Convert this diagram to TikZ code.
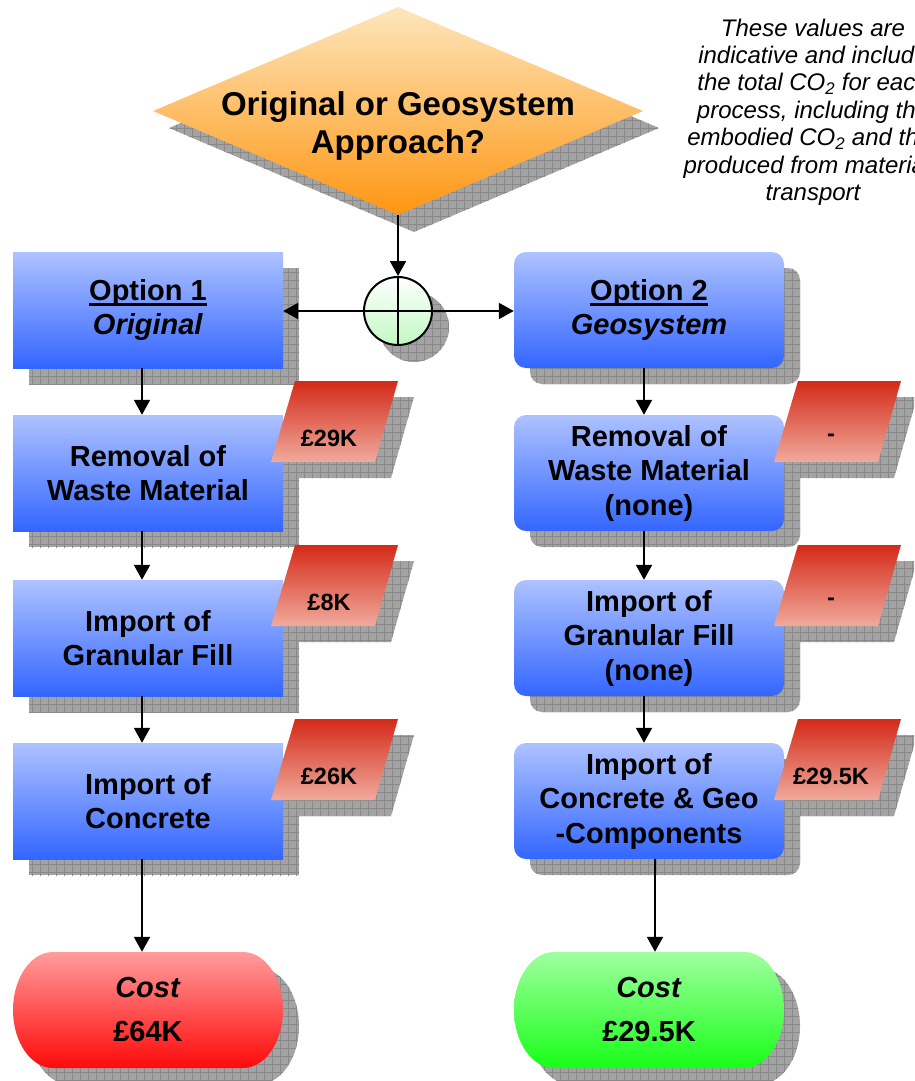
\documentclass[tikz,border=0pt]{standalone}
\usepackage{fontspec}
\setmainfont{Liberation Sans}
\usetikzlibrary{arrows.meta,shapes.geometric}

\definecolor{boxtop}{HTML}{AEC2FF}
\definecolor{boxbot}{HTML}{3366FF}
\definecolor{paratop}{HTML}{D42A18}
\definecolor{parabot}{HTML}{F0AA9C}
\definecolor{diatop}{HTML}{FDE6BC}
\definecolor{diabot}{HTML}{FF9612}
\definecolor{redtop}{HTML}{FF9C9C}
\definecolor{redbot}{HTML}{FF0A0A}
\definecolor{greentop}{HTML}{A0FFA0}
\definecolor{greenbot}{HTML}{18FF18}
\definecolor{jnbot}{HTML}{C2F8C2}
\definecolor{shadowgray}{HTML}{A3A3A3}
\definecolor{shadowline}{HTML}{898989}

% hatched drop shadow behind a shape
\newcommand\gshadow[1]{%
  \fill[shadowgray] #1;
  \begin{scope}
    \clip #1;
    \draw[shadowline, line width=0.9pt, step=8pt] (0,1100) grid (930,-20);
  \end{scope}}
\newcommand\boxshadow[2]{\gshadow{(#1-119,#2-42) rectangle (#1+151,#2+74)}}
\newcommand\rboxshadow[2]{\gshadow{[rounded corners=12pt] (#1-119,#2-42) rectangle (#1+151,#2+74)}}
% parallelogram given by its top-left corner
\newcommand\parapath[2]{(#1,#2) -- (#1+103,#2) -- (#1+80,#2+81) -- (#1-24,#2+81) -- cycle}
% terminator (pill with elliptic ends) given by its centre
\newcommand\termpath[2]{(#1-95,#2-58) -- (#1+95,#2-58)
  arc[start angle=-90, end angle=90, x radius=40, y radius=58]
  -- (#1-95,#2+58)
  arc[start angle=90, end angle=270, x radius=40, y radius=58] -- cycle}
% thick underline
\newcommand\ulbold[1]{\setbox0\hbox{#1}\rlap{\rule[-5.5pt]{\wd0}{3pt}}\box0}

\tikzset{
  box/.style={minimum width=270pt, minimum height=116pt, inner sep=0pt,
    top color=boxtop, bottom color=boxbot, align=center,
    font=\fontsize{29pt}{34.5pt}\selectfont\bfseries},
  rbox/.style={box, rounded corners=12pt},
  ptext/.style={inner sep=0pt, font=\fontsize{23.5pt}{28pt}\selectfont\bfseries},
  costtext/.style={minimum width=270pt, minimum height=116pt, inner sep=0pt, align=center,
    font=\fontsize{29pt}{44pt}\selectfont\bfseries},
  dtext/.style={inner sep=0pt, align=center, font=\fontsize{33pt}{38pt}\selectfont\bfseries},
  note/.style={inner sep=0pt, align=center, font=\fontsize{24pt}{27.4pt}\selectfont\itshape},
  arr/.style={line width=2pt, -{Triangle[length=15pt, width=16pt]}},
}

\begin{document}
\begin{tikzpicture}[x=1pt, y=-1pt]
\useasboundingbox (0,0) rectangle (914,1081);
\clip (0,0) rectangle (914,1081);

% ---------- shadows ----------
\gshadow{(414,24) -- (659,128) -- (414,232) -- (169,128) -- cycle}
\gshadow{(414,327) circle[radius=35]}
\boxshadow{148}{310}
\boxshadow{148}{473}
\boxshadow{148}{638}
\boxshadow{148}{801}
\rboxshadow{649}{310}
\rboxshadow{649}{473}
\rboxshadow{649}{638}
\rboxshadow{649}{801}
\gshadow{\parapath{311}{397}}
\gshadow{\parapath{311}{561}}
\gshadow{\parapath{311}{735}}
\gshadow{\parapath{814}{397}}
\gshadow{\parapath{814}{561}}
\gshadow{\parapath{814}{735}}
\gshadow{\termpath{164}{1026}}
\gshadow{\termpath{665}{1026}}

% ---------- decision ----------
\node[diamond, minimum width=490pt, minimum height=208pt, inner sep=0pt,
      top color=diatop, bottom color=diabot] (dia) at (398,111) {};
\node[dtext] (diat) at (398,126) {Original or Geosystem\\Approach?};

\node[note] (note) at (813,112) {These values are\\indicative and include\\the total CO\textsubscript{2} for each\\process, including the\\embodied CO\textsubscript{2} and that\\produced from materials\\transport};

% ---------- process boxes ----------
\node[box] (o1) at (148,310) {\ulbold{Option 1}\\\textit{Original}};
\node[box] (l2) at (148,473) {Removal of\\Waste Material};
\node[box] (l3) at (148,638) {Import of\\Granular Fill};
\node[box] (l4) at (148,801) {Import of\\Concrete};

\node[rbox] (o2) at (649,310) {\ulbold{Option 2}\\\textit{Geosystem}};
\node[rbox] (r2) at (649,473) {Removal of\\Waste Material\\(none)};
\node[rbox] (r3) at (649,638) {Import of\\Granular Fill\\(none)};
\node[rbox] (r4) at (649,801) {Import of\\Concrete \& Geo\\-Components};

% ---------- cost tags ----------
\shade[top color=paratop, bottom color=parabot] \parapath{295}{381};
\shade[top color=paratop, bottom color=parabot] \parapath{295}{545};
\shade[top color=paratop, bottom color=parabot] \parapath{295}{719};
\shade[top color=paratop, bottom color=parabot] \parapath{798}{381};
\shade[top color=paratop, bottom color=parabot] \parapath{798}{545};
\shade[top color=paratop, bottom color=parabot] \parapath{798}{719};
\node[ptext] (p1) at (329,438) {£29K};
\node[ptext] (p2) at (329,602) {£8K};
\node[ptext] (p3) at (329,776) {£26K};
\node[ptext] (q1) at (831,438) {-};
\node[ptext] (q2) at (831,602) {-};
\node[ptext] (q3) at (831,776) {£29.5K};

% ---------- junction ----------
\node[circle, draw, line width=2pt, minimum size=68pt, inner sep=0pt,
      top color=white, bottom color=jnbot] (jn) at (398,311) {};
\draw[line width=2pt] (jn.north) -- (jn.south) (jn.west) -- (jn.east);

% ---------- terminators ----------
\shade[top color=redtop, bottom color=redbot] \termpath{148}{1010};
\shade[top color=greentop, bottom color=greenbot] \termpath{649}{1010};
\node[costtext] (c1) at (148,1010) {\textit{Cost}\\£64K};
\node[costtext] (c2) at (649,1010) {\textit{Cost}\\£29.5K};

% ---------- connectors ----------
\draw[arr] (dia.south) -- (jn.north);
\draw[arr] (jn.west) -- (jn.west -| o1.east);
\draw[arr] (jn.east) -- (jn.east -| o2.west);
\draw[arr] ([xshift=-6pt]o1.south) -- ([xshift=-6pt]l2.north);
\draw[arr] ([xshift=-6pt]l2.south) -- ([xshift=-6pt]l3.north);
\draw[arr] ([xshift=-6pt]l3.south) -- ([xshift=-6pt]l4.north);
\draw[arr] ([xshift=-6pt]l4.south) -- ([xshift=-6pt]c1.north);
\draw[arr] ([xshift=-5pt]o2.south) -- ([xshift=-5pt]r2.north);
\draw[arr] ([xshift=-5pt]r2.south) -- ([xshift=-5pt]r3.north);
\draw[arr] ([xshift=-5pt]r3.south) -- ([xshift=-5pt]r4.north);
\draw[arr] ([xshift=6pt]r4.south) -- ([xshift=6pt]c2.north);
\end{tikzpicture}
\end{document}
